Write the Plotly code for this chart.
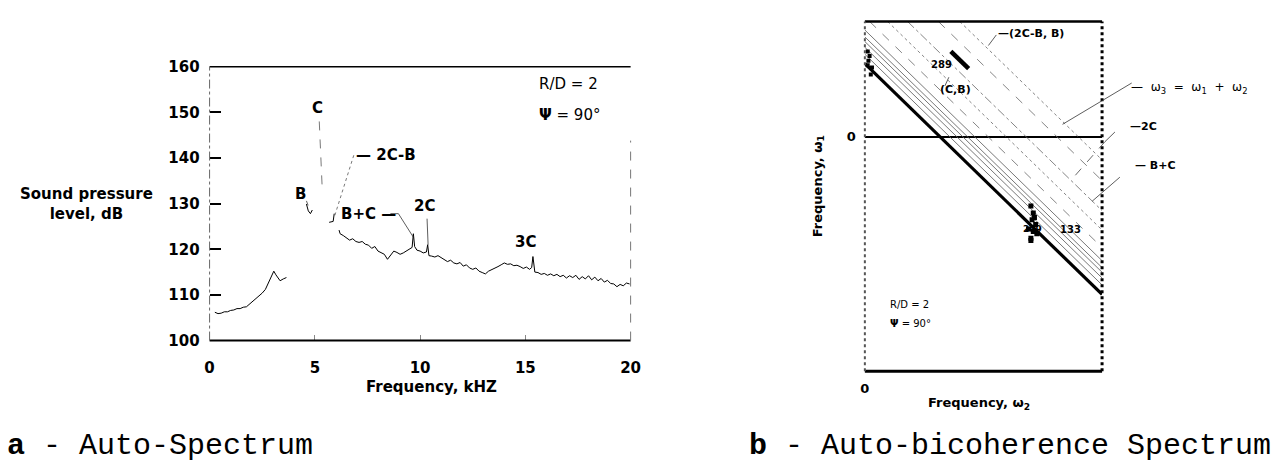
import plotly.graph_objects as go

W, H = 1287, 462

# ---------------- Auto-spectrum data (frequency in kHz, SPL in dB) ----------------
freq_low = [0.25, 0.4, 0.55, 0.7, 0.85, 1.0, 1.15, 1.3, 1.45, 1.6, 1.75, 1.9, 2.05,
            2.2, 2.35, 2.5, 2.65, 2.8, 2.95, 3.05, 3.15, 3.25, 3.35, 3.5, 3.65]
spl_low = [106.2, 105.9, 106.0, 106.3, 106.3, 106.6, 106.7, 107.0, 107.0, 107.3, 107.4,
           108.0, 108.5, 109.2, 109.6, 110.4, 111.2, 112.6, 114.1, 115.2, 114.4, 113.6,
           113.1, 113.5, 113.8]

freq_b = [4.6, 4.69, 4.79, 4.88]
spl_b = [129.9, 128.4, 127.8, 128.6]

freq_2cb = [5.68, 5.87, 5.92]
spl_2cb = [125.9, 126.1, 127.8]

freq_main = [6.15, 6.2, 6.35, 6.5, 6.65, 6.8, 6.95, 7.1, 7.25, 7.4, 7.55, 7.7, 7.85, 8.0,
             8.15, 8.3, 8.45, 8.6, 8.75, 8.9, 9.05, 9.2, 9.35, 9.5, 9.62, 9.68, 9.74,
             9.85, 10.0, 10.15, 10.3, 10.36, 10.42, 10.55, 10.7, 10.85, 11.0, 11.15,
             11.3, 11.45, 11.6, 11.75, 11.9, 12.05, 12.2, 12.35, 12.5, 12.65, 12.8,
             12.95, 13.1, 13.25, 13.4, 13.55, 13.7, 13.85, 14.0, 14.15, 14.3, 14.45,
             14.6, 14.75, 14.9, 15.05, 15.2, 15.3, 15.36, 15.45, 15.6, 15.75, 15.9,
             16.05, 16.2, 16.35, 16.5, 16.65, 16.8, 16.95, 17.1, 17.25, 17.4, 17.55,
             17.7, 17.85, 18.0, 18.15, 18.3, 18.45, 18.6, 18.75, 18.9, 19.05, 19.2,
             19.35, 19.5, 19.65, 19.8, 19.95]
spl_main = [124.2, 123.4, 123.0, 122.4, 122.0, 122.3, 121.7, 121.5, 121.7, 121.1, 120.9,
            120.2, 120.6, 119.6, 119.2, 118.9, 117.8, 118.6, 119.6, 119.3, 118.9, 119.2,
            119.6, 120.0, 120.4, 123.4, 120.6, 119.8, 119.6, 119.2, 119.4, 121.0, 118.6,
            118.5, 118.3, 118.6, 118.1, 117.6, 117.3, 117.6, 117.0, 116.8, 117.1, 116.3,
            116.6, 115.9, 115.6, 115.9, 115.2, 114.9, 114.6, 115.2, 115.5, 115.8, 116.2,
            116.6, 117.0, 116.7, 116.8, 116.4, 116.5, 116.2, 115.8, 116.1, 115.6, 116.0,
            118.4, 115.0, 114.9, 114.5, 114.7, 114.3, 114.6, 114.2, 114.5, 114.0, 114.3,
            113.7, 114.2, 113.8, 114.3, 113.4, 114.0, 113.5, 114.2, 113.3, 113.9, 113.1,
            113.6, 112.8, 113.2, 112.5, 112.4, 111.8, 112.3, 112.0, 112.6, 112.4]

x_ticks = [0, 5, 10, 15, 20]
y_ticks = [100, 110, 120, 130, 140, 150, 160]

# ---------------- Auto-bicoherence data (normalised frequencies) ----------------
w2_range = [0.0, 1.0]
w1_range = [-1.0167, 0.5]
main_sum = 0.317                                   # heavy line  w1 + w2 = const
solid_sums = [0.358, 0.388, 0.413, 0.433, 0.463]   # thin solid contours
dashed_sums = [0.52, 0.596, 0.68, 0.81, 0.9]       # dashed contours
peak_sum = 0.733                                   # (C,B) ridge, value 289
peak_w2 = [0.3625, 0.4375]
cluster_w2 = [0.70, 0.71, 0.705, 0.72, 0.71, 0.70, 0.725, 0.69, 0.715, 0.70]
cluster_w1 = [-0.30, -0.33, -0.36, -0.38, -0.41, -0.44, -0.42, -0.40, -0.35, -0.45]
edge_w2 = [0.012, 0.02, 0.015, 0.03, 0.025, 0.012]
edge_w1 = [0.37, 0.35, 0.33, 0.30, 0.27, 0.31]


def px(x):
    return x / W


def py(y):
    return 1 - y / H


def join(*segs):
    xs, ys = [], []
    for sx, sy in segs:
        xs += list(sx) + [None]
        ys += list(sy) + [None]
    return xs, ys


BOLD = dict(family="DejaVu Sans", size=15, color="black", weight="bold")
REG = dict(family="DejaVu Sans", size=15, color="black")

fig = go.Figure()

# spectrum curve
sx, sy = join((freq_low, spl_low), (freq_b, spl_b), (freq_2cb, spl_2cb), (freq_main, spl_main))
fig.add_trace(go.Scatter(x=sx, y=sy, mode="lines", line=dict(color="black", width=1),
                         xaxis="x", yaxis="y", hoverinfo="skip"))


def contour(c):
    a = max(w2_range[0], c - w1_range[1])
    b = min(w2_range[1], c - w1_range[0])
    return [a, b], [c - a, c - b]


for c in solid_sums:
    cx, cy = contour(c)
    fig.add_trace(go.Scatter(x=cx, y=cy, mode="lines", line=dict(color="#555", width=0.8),
                             xaxis="x2", yaxis="y2", hoverinfo="skip"))
for i, c in enumerate(dashed_sums):
    cx, cy = contour(c)
    fig.add_trace(go.Scatter(x=cx, y=cy, mode="lines",
                             line=dict(color="#666", width=0.8, dash=["dash", "dot", "dashdot"][i % 3]),
                             xaxis="x2", yaxis="y2", hoverinfo="skip"))
cx, cy = contour(main_sum)
fig.add_trace(go.Scatter(x=cx, y=cy, mode="lines", line=dict(color="black", width=3.2),
                         xaxis="x2", yaxis="y2", hoverinfo="skip"))
fig.add_trace(go.Scatter(x=peak_w2, y=[peak_sum - v for v in peak_w2], mode="lines",
                         line=dict(color="black", width=4.5), xaxis="x2", yaxis="y2",
                         hoverinfo="skip"))
fig.add_trace(go.Scatter(x=cluster_w2, y=cluster_w1, mode="markers",
                         marker=dict(color="black", size=5, symbol="square"),
                         xaxis="x2", yaxis="y2", hoverinfo="skip"))
fig.add_trace(go.Scatter(x=edge_w2, y=edge_w1, mode="markers",
                         marker=dict(color="black", size=4, symbol="square"),
                         xaxis="x2", yaxis="y2", hoverinfo="skip"))

shapes = []
# frame of the auto-spectrum
shapes.append(dict(type="line", xref="x domain", yref="y domain", x0=0, x1=1, y0=1, y1=1,
                   line=dict(color="black", width=1.5)))
shapes.append(dict(type="line", xref="x domain", yref="y domain", x0=0, x1=1, y0=0, y1=0,
                   line=dict(color="black", width=2)))
shapes.append(dict(type="line", xref="x domain", yref="y domain", x0=0, x1=0, y0=0, y1=1,
                   line=dict(color="#666", width=1, dash="dashdot")))
shapes.append(dict(type="line", xref="x domain", yref="y domain", x0=1, x1=1, y0=0, y1=0.73,
                   line=dict(color="#777", width=1, dash="dash")))

# peak leaders (data coordinates)
lead = dict(color="#333", width=0.8)
shapes.append(dict(type="line", xref="x", yref="y", x0=5.21, y0=148.0, x1=5.35, y1=133.3,
                   line=dict(color="#555", width=0.8, dash="dash")))
shapes.append(dict(type="line", xref="x", yref="y", x0=4.6, y0=130.6, x1=4.68, y1=129.6, line=lead))
shapes.append(dict(type="line", xref="x", yref="y", x0=6.85, y0=140.6, x1=5.92, y1=127.0,
                   line=dict(color="#555", width=0.8, dash="dot")))
shapes.append(dict(type="path", xref="x", yref="y",
                   path="M 8.59 127.8 L 8.97 127.8 L 9.67 122.7", line=lead))
shapes.append(dict(type="line", xref="x", yref="y", x0=10.33, y0=126.7, x1=10.38, y1=121.0, line=lead))

# frame of the bicoherence map
shapes.append(dict(type="line", xref="x2 domain", yref="y2 domain", x0=0, x1=1, y0=1, y1=1,
                   line=dict(color="black", width=2.5)))
shapes.append(dict(type="line", xref="x2 domain", yref="y2 domain", x0=0, x1=1, y0=0, y1=0,
                   line=dict(color="black", width=3)))
shapes.append(dict(type="line", xref="x2 domain", yref="y2 domain", x0=0, x1=0, y0=0, y1=1,
                   line=dict(color="#555", width=2, dash="dot")))
shapes.append(dict(type="line", xref="x2 domain", yref="y2 domain", x0=1, x1=1, y0=0, y1=1,
                   line=dict(color="black", width=3, dash="dot")))

# leaders to the right of the map
shapes.append(dict(type="line", xref="paper", yref="paper", x0=px(1140), y0=py(77), x1=px(1070), y1=py(120),
                   line=lead))
shapes.append(dict(type="line", xref="paper", yref="paper", x0=px(1123), y0=py(128), x1=px(1113), y1=py(138),
                   line=lead))
shapes.append(dict(type="line", xref="paper", yref="paper", x0=px(1113), y0=py(138), x1=px(1083), y1=py(173),
                   line=dict(color="#444", width=0.8, dash="dash")))
shapes.append(dict(type="line", xref="paper", yref="paper", x0=px(1128), y0=py(175), x1=px(1100), y1=py(200),
                   line=lead))
shapes.append(dict(type="line", xref="paper", yref="paper", x0=px(1003), y0=py(27), x1=px(995), y1=py(38),
                   line=lead))
shapes.append(dict(type="line", xref="paper", yref="paper", x0=px(951), y0=py(80), x1=px(955), y1=py(71),
                   line=lead))

ann = []


def label(text, x, y, font, xref="x", yref="y", xanchor="center", **kw):
    ann.append(dict(text=text, x=x, y=y, xref=xref, yref=yref, showarrow=False,
                    xanchor=xanchor, yanchor="middle", font=font, **kw))


# spectrum peak labels
label("C", 5.12, 150.9, BOLD)
label("B", 4.32, 132.2, BOLD)
label("— 2C-B", 6.85, 140.6, BOLD, xanchor="left")
label("B+C —", 8.97, 127.8, BOLD, xanchor="right")
label("2C", 10.23, 129.5, BOLD)
label("3C", 15.02, 121.5, BOLD)
label("R/D = 2", px(538), py(78), REG, xref="paper", yref="paper", xanchor="left")
label("<b>Ψ</b> = 90°", px(538), py(110), REG, xref="paper", yref="paper", xanchor="left")

# axis titles
label("Sound pressure<br>level, dB", px(82), py(203), BOLD, xref="paper", yref="paper")
label("Frequency, kHZ", px(432), py(393), BOLD, xref="paper", yref="paper")

SMALL_B = dict(family="DejaVu Sans", size=11, color="black", weight="bold")
SMALL = dict(family="DejaVu Sans", size=12, color="black")
label("—(2C-B, B)", px(1003), py(26), SMALL_B, xref="paper", yref="paper", xanchor="left")
label("289", px(948), py(58), dict(family="DejaVu Sans", size=10, color="black", weight="bold"),
      xref="paper", yref="paper")
label("(C,B)", px(962), py(84), SMALL_B, xref="paper", yref="paper")
label("249", px(1040), py(229), dict(family="DejaVu Sans", size=9, color="black", weight="bold"),
      xref="paper", yref="paper")
label("133", px(1078), py(229), dict(family="DejaVu Sans", size=10, color="black", weight="bold"),
      xref="paper", yref="paper")
label("—  ω<sub>3</sub>  =  ω<sub>1</sub>  +  ω<sub>2</sub>", px(1137), py(82), SMALL,
      xref="paper", yref="paper", xanchor="left")
label("—2C", px(1136), py(122), SMALL_B, xref="paper", yref="paper", xanchor="left")
label("— B+C", px(1141), py(163), SMALL_B, xref="paper", yref="paper", xanchor="left")
label("R/D = 2", px(893), py(307), dict(family="DejaVu Sans", size=10, color="black"),
      xref="paper", yref="paper", xanchor="left")
label("<b>Ψ</b> = 90°", px(893), py(327), dict(family="DejaVu Sans", size=10, color="black"),
      xref="paper", yref="paper", xanchor="left")
label("Frequency, ω<sub>2</sub>", px(985), py(410), dict(family="DejaVu Sans", size=13, color="black", weight="bold"),
      xref="paper", yref="paper")
label("Frequency, ω<sub>1</sub>", px(823), py(184), dict(family="DejaVu Sans", size=13, color="black", weight="bold"),
      xref="paper", yref="paper", textangle=-90)

# captions
CAP = dict(family="Liberation Mono", size=30, color="black")
label("<b>a</b> - Auto-Spectrum", px(0), py(455), CAP, xref="paper", yref="paper", xanchor="left")
label("<b>b</b> - Auto-bicoherence Spectrum", px(751), py(455), CAP, xref="paper", yref="paper",
      xanchor="left")

fig.update_layout(
    width=W, height=H, margin=dict(l=0, r=0, t=0, b=0),
    paper_bgcolor="white", plot_bgcolor="white", showlegend=False,
    shapes=shapes, annotations=ann,
    xaxis=dict(domain=[px(207), px(633)], range=[0, 20], tickvals=x_ticks,
               ticks="inside", ticklen=6, tickcolor="#888", tickwidth=1,
               showgrid=False, zeroline=False, showline=False,
               tickfont=BOLD, ticklabelstandoff=16),
    yaxis=dict(domain=[py(345), py(60)], range=[100, 160], tickvals=y_ticks,
               ticks="inside", ticklen=11, tickwidth=2, tickcolor="black",
               showgrid=False, zeroline=False, showline=False,
               tickfont=BOLD, ticklabelstandoff=9),
    xaxis2=dict(domain=[px(870), px(1110)], range=w2_range, tickvals=[0], ticktext=["0"],
                ticks="", showgrid=False, zeroline=False, showline=False,
                tickfont=dict(family="DejaVu Sans", size=13, color="black", weight="bold"),
                ticklabelstandoff=8, anchor="y2"),
    yaxis2=dict(domain=[py(377), py(13)], range=w1_range, tickvals=[0], ticktext=["0"],
                ticks="", showgrid=False, zeroline=True, zerolinecolor="black", zerolinewidth=1.5,
                showline=False,
                tickfont=dict(family="DejaVu Sans", size=13, color="black", weight="bold"),
                ticklabelstandoff=8, anchor="x2"),
)

fig.write_html("out.html", config={"displayModeBar": False})
